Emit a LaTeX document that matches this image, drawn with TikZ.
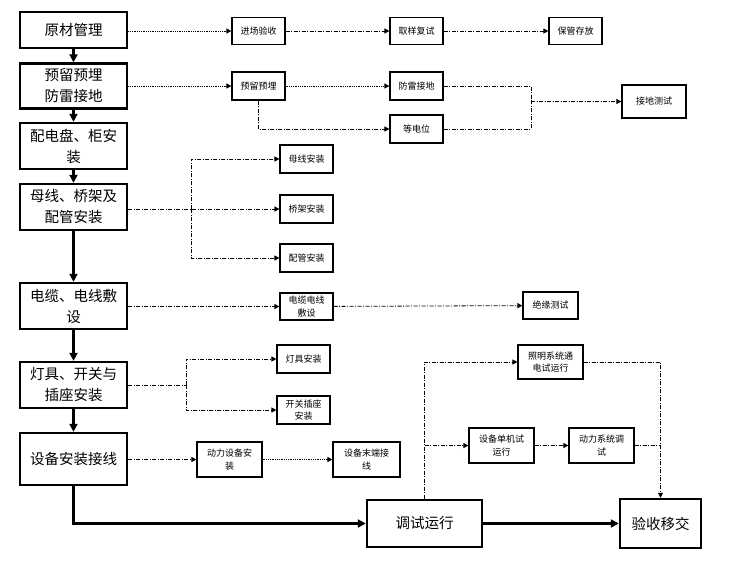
\documentclass[tikz,border=0pt]{standalone}
\usepackage{fontspec}
\newfontfamily\cjk{Noto Sans CJK SC}
\usetikzlibrary{arrows.meta, positioning}
\tikzset{
  mainbox/.style  = {draw, line width=2.4pt, minimum width=107pt, minimum height=46pt,
                     inner sep=1pt, align=center, fill=white,
                     font=\cjk\fontsize{14.5}{21}\selectfont},
  subbox/.style   = {draw, line width=1.2pt, minimum width=53pt, minimum height=28pt,
                     inner sep=1pt, align=center, fill=white,
                     font=\cjk\fontsize{9}{12.5}\selectfont},
  mainflow/.style = {-{Triangle[length=8pt, width=8pt]}, line width=2.2pt},
  dotflow/.style  = {-{Triangle[length=5pt, width=5pt]}, line width=0.7pt,
                     dash pattern=on 0.8pt off 1pt},
  dashflow/.style = {-{Triangle[length=5pt, width=5pt]}, line width=0.8pt,
                     dash pattern=on 4pt off 1.5pt on 1pt off 1.5pt},
  dashline/.style = {line width=0.8pt, dash pattern=on 4pt off 1.5pt on 1pt off 1.5pt},
}

\begin{document}
\begin{tikzpicture}[x=1pt, y=-1pt, >=Latex]
    \useasboundingbox (0,0) rectangle (738,560);

    % main column
    \node[mainbox, minimum height=36pt] (raw)   at (73.5,30)  {原材管理};
    \node[mainbox, minimum height=45pt] (resv)  at (73.5,86)  {预留预埋\\防雷接地};
    \node[mainbox] (panel) at (73.5,146) {配电盘、柜安\\装};
    \node[mainbox] (bus)   at (73.5,207) {母线、桥架及\\配管安装};
    \node[mainbox] (cable) at (73.5,306) {电缆、电线敷\\设};
    \node[mainbox] (lamp)  at (73.5,385) {灯具、开关与\\插座安装};
    \node[mainbox, minimum height=52pt] (equip) at (73.5,459) {设备安装接线};
    \node[mainbox, minimum width=115pt, minimum height=47pt] (debug)  at (424.5,523.5) {调试运行};
    \node[mainbox, minimum width=81pt, minimum height=49pt]  (accept) at (660.5,523.5) {验收移交};

    % sub steps
    \node[subbox, minimum height=27pt] (inspect) at (258.5,31)  {进场验收};
    \node[subbox, minimum height=27pt] (sample)  at (416.5,31)  {取样复试};
    \node[subbox, minimum height=27pt] (store)   at (575.5,31)  {保管存放};
    \node[subbox] (pre)    at (258.5,86)  {预留预埋};
    \node[subbox] (light)  at (416.5,86)  {防雷接地};
    \node[subbox] (equi)   at (416.5,129) {等电位};
    \node[subbox, minimum width=64pt, minimum height=33pt] (gtest) at (654,101.5) {接地测试};
    \node[subbox] (busins) at (306.5,159) {母线安装};
    \node[subbox] (tray)   at (306.5,209) {桥架安装};
    \node[subbox] (pipe)   at (306.5,258) {配管安装};
    \node[subbox, minimum height=27pt] (cabsub) at (306.5,306.5) {电缆电线\\敷设};
    \node[subbox, minimum width=55pt, minimum height=27pt] (insul) at (550.5,305.5) {绝缘测试};
    \node[subbox] (lampins) at (303.5,359) {灯具安装};
    \node[subbox] (switch)  at (303.5,410) {开关插座\\安装};
    \node[subbox, minimum width=65pt, minimum height=35pt] (power)  at (229.5,459.5) {动力设备安\\装};
    \node[subbox, minimum width=67pt, minimum height=35pt] (term)   at (366.5,459.5) {设备末端接\\线};
    \node[subbox, minimum width=65pt, minimum height=34pt] (lrun)   at (550.5,362)   {照明系统通\\电试运行};
    \node[subbox, minimum width=65pt, minimum height=35pt] (single) at (501.5,445.5) {设备单机试\\运行};
    \node[subbox, minimum width=65pt, minimum height=35pt] (psys)   at (601.5,445.5) {动力系统调\\试};

    \coordinate (gj) at (531,101.5);
    \coordinate (bj) at (191,209);
    \coordinate (lj) at (186,385);
    \coordinate (dj) at (424.5,445.5);

    % main flow
    \draw[mainflow] (raw) -- (resv);
    \draw[mainflow] (resv) -- (panel);
    \draw[mainflow] (panel) -- (bus);
    \draw[mainflow] (bus) -- (cable);
    \draw[mainflow] (cable) -- (lamp);
    \draw[mainflow] (lamp) -- (equip);
    \draw[mainflow] (equip.south) |- (debug.west);
    \draw[mainflow] (debug) -- (accept);

    % branches
    \draw[dotflow] (raw.east |- inspect) -- (inspect);
    \draw[dashflow] (inspect) -- (sample);
    \draw[dashflow] (sample) -- (store);
    \draw[dotflow] (resv.east |- pre) -- (pre);
    \draw[dotflow] (pre) -- (light);
    \draw[dashflow] (pre.south) |- (equi.west);
    \draw[dashline] (light.east) -| (gj);
    \draw[dashline] (equi.east) -| (gj);
    \draw[dashflow] (gj) -- (gtest.west |- gj);

    \draw[dashflow] (bus.east |- tray) -- (tray);
    \draw[dashflow] (bj) |- (busins.west);
    \draw[dashflow] (bj) |- (pipe.west);

    \draw[dashflow] (cable.east |- cabsub) -- (cabsub);
    \draw[dashflow] (cabsub) -- (insul);

    \draw[dashline] (lamp.east) -- (lj);
    \draw[dashflow] (lj) |- (lampins.west);
    \draw[dashflow] (lj) |- (switch.west);

    \draw[dashflow] (equip.east |- power) -- (power);
    \draw[dotflow] (power) -- (term);

    \draw[dashflow] (debug.north) |- (lrun.west);
    \draw[dashflow] (dj) -- (single);
    \draw[dashflow] (single) -- (psys);
    \draw[dashflow] (lrun.east) -| (accept.north);
    \draw[dashline] (psys.east) -- (accept.north |- psys.east);
\end{tikzpicture}
\end{document}
